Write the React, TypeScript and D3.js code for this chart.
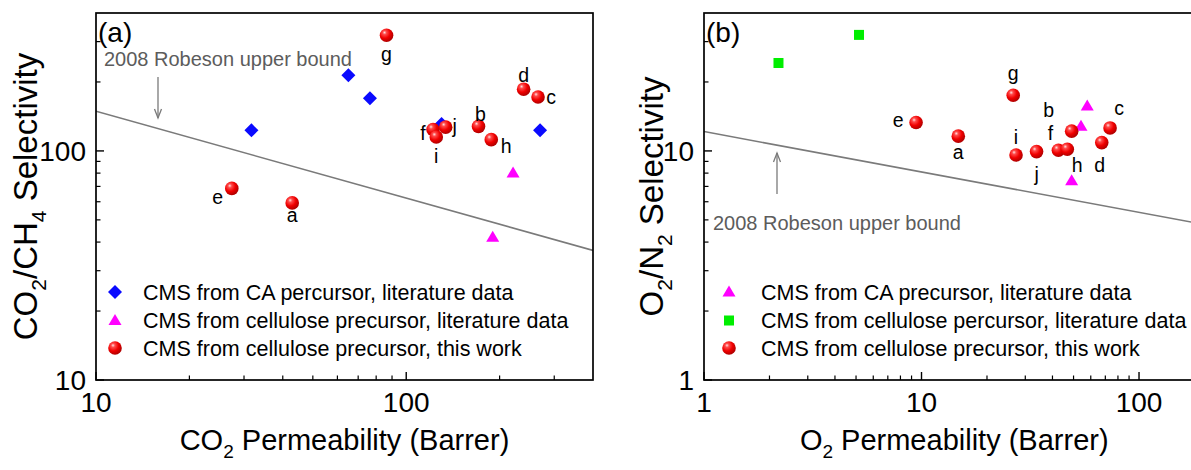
import React from 'react';
import * as d3 from 'd3';

// ---------- Panel (a): CO2/CH4 ----------
const caLitA = [
  { p: 31.7, s: 123 },
  { p: 65.1, s: 214 },
  { p: 76.4, s: 170 },
  { p: 130, s: 131 },
  { p: 270, s: 123 },
];
const celLitA = [
  { p: 221, s: 80 },
  { p: 190, s: 42 },
];
const thisWorkA = [
  { id: 'a', p: 42.9, s: 59.3 },
  { id: 'b', p: 171, s: 128 },
  { id: 'c', p: 266, s: 172 },
  { id: 'd', p: 239, s: 186 },
  { id: 'e', p: 27.4, s: 68.6 },
  { id: 'f', p: 122, s: 124 },
  { id: 'g', p: 86.4, s: 320 },
  { id: 'h', p: 188, s: 112 },
  { id: 'i', p: 125, s: 115 },
  { id: 'j', p: 134, s: 127 },
];
const robesonA = [
  { p: 10, s: 149 },
  { p: 400, s: 36.8 },
];
const xDomainA = [10, 400];
const yDomainA = [10, 400];
const xTicksA = [10, 100];
const yTicksA = [10, 100];

// ---------- Panel (b): O2/N2 ----------
const caLitB = [
  { p: 57.8, s: 15.7 },
  { p: 54.1, s: 12.8 },
  { p: 49.0, s: 7.41 },
];
const celLitB = [
  { p: 2.2, s: 24.2 },
  { p: 5.16, s: 32.1 },
];
const thisWorkB = [
  { id: 'a', p: 14.76, s: 11.6 },
  { id: 'b', p: 49.0, s: 12.2 },
  { id: 'c', p: 73.6, s: 12.6 },
  { id: 'd', p: 67.4, s: 10.87 },
  { id: 'e', p: 9.44, s: 13.3 },
  { id: 'f', p: 42.6, s: 10.07 },
  { id: 'g', p: 26.4, s: 17.5 },
  { id: 'h', p: 46.8, s: 10.17 },
  { id: 'i', p: 27.2, s: 9.6 },
  { id: 'j', p: 33.8, s: 9.93 },
];
const robesonB = [
  { p: 1, s: 12.15 },
  { p: 200, s: 4.77 },
];
const xDomainB = [1, 200];
const yDomainB = [1, 40];
const xTicksB = [1, 10, 100];
const yTicksB = [1, 10];

const legendA = [
  { shape: 'diamond', text: 'CMS from CA percursor, literature data' },
  { shape: 'triangle', text: 'CMS from cellulose precursor, literature data' },
  { shape: 'sphere', text: 'CMS from cellulose precursor, this work' },
];
const legendB = [
  { shape: 'triangle', text: 'CMS from CA precursor, literature data' },
  { shape: 'square', text: 'CMS from cellulose percursor, literature data' },
  { shape: 'sphere', text: 'CMS from cellulose precursor, this work' },
];

// label offsets (text centre dx, baseline dy) relative to the point
const labelOffA: Record<string, [number, number]> = {
  a: [0, 19], b: [2, -5], c: [13, 7], d: [0, -7], e: [-14, 16],
  f: [-10, 10], g: [0, 26], h: [15, 13], i: [0, 26], j: [9, 6],
};
const labelOffB: Record<string, [number, number]> = {
  a: [0, 23], b: [-23, -14], c: [9, -13], d: [-2, 29], e: [-18, 4],
  f: [-8, -10], g: [0, -15], h: [10, 23], i: [0, -11], j: [0, 29],
};

const FONT = '"Liberation Sans", Arial, Helvetica, sans-serif';
const GRAY = '#7a7a7a';

function Marker({ shape, x, y }: { shape: string; x: number; y: number }) {
  if (shape === 'diamond') {
    const r = 7;
    return <path d={`M${x},${y - r}L${x + r},${y}L${x},${y + r}L${x - r},${y}Z`} fill="#0a0aff" />;
  }
  if (shape === 'triangle') {
    const h = 11, w = 13;
    return <path d={`M${x},${y - h * 0.6}L${x + w / 2},${y + h * 0.4}L${x - w / 2},${y + h * 0.4}Z`} fill="#ff00ff" />;
  }
  if (shape === 'square') {
    const s = 10;
    return <rect x={x - s / 2} y={y - s / 2} width={s} height={s} fill="#00ee00" />;
  }
  return <circle cx={x} cy={y} r={6.8} fill="url(#sphereGrad)" />;
}

function minorTicks(domain: number[]) {
  const out: number[] = [];
  const lo = Math.floor(Math.log10(domain[0]));
  const hi = Math.ceil(Math.log10(domain[1]));
  for (let e = lo; e <= hi; e++) {
    for (let m = 2; m <= 9; m++) {
      const v = m * Math.pow(10, e);
      if (v > domain[0] && v < domain[1]) out.push(v);
    }
  }
  return out;
}

function Arrow({ x, y1, y2 }: { x: number; y1: number; y2: number }) {
  const dir = y2 > y1 ? 1 : -1;
  return (
    <g stroke={GRAY} strokeWidth={1.3} fill="none">
      <line x1={x} y1={y1} x2={x} y2={y2} />
      <path d={`M${x - 3.5},${y2 - dir * 9}L${x},${y2}L${x + 3.5},${y2 - dir * 9}`} />
    </g>
  );
}

function Panel(props: {
  xDomain: number[]; yDomain: number[]; xRange: number[]; yRange: number[];
  xTicks: number[]; yTicks: number[];
  series: { shape: string; data: { p: number; s: number; id?: string }[] }[];
  labelOff: Record<string, [number, number]>;
  robeson: { p: number; s: number }[];
  panelLabel: string;
  xTitle: [string, string, string];
  yTitle: React.ReactNode;
  yTitleX: number;
  legend: { shape: string; text: string }[];
  legendMarkerX: number; legendTextX: number; legendY: number[];
  robText: { x: number; y: number };
  arrow: { x: number; y1: number; y2: number };
}) {
  const x = d3.scaleLog().domain(props.xDomain).range(props.xRange);
  const y = d3.scaleLog().domain(props.yDomain).range(props.yRange);
  const [x0, x1] = props.xRange;
  const [yb, yt] = props.yRange;
  const line = d3.line<{ p: number; s: number }>().x(d => x(d.p)).y(d => y(d.s));
  const clipId = 'clip' + props.panelLabel.replace(/[()]/g, '');
  return (
    <g fontFamily={FONT}>
      <clipPath id={clipId}>
        <rect x={x0} y={yt} width={x1 - x0} height={yb - yt} />
      </clipPath>
      {/* Robeson line */}
      <path d={line(props.robeson) || ''} stroke={GRAY} strokeWidth={1.6} fill="none" clipPath={`url(#${clipId})`} />
      <Arrow {...props.arrow} />
      <text x={props.robText.x} y={props.robText.y} fontSize={20} fill="#5c5c5c">2008 Robeson upper bound</text>
      {/* frame */}
      <rect x={x0} y={yt} width={x1 - x0} height={yb - yt} fill="none" stroke="#000" strokeWidth={1.7} />
      {/* ticks */}
      {props.xTicks.map(t => (
        <g key={'xt' + t}>
          <line x1={x(t)} x2={x(t)} y1={yb} y2={yb - 8} stroke="#000" strokeWidth={1.4} />
          <text x={x(t)} y={yb + 32} fontSize={28} textAnchor="middle">{t}</text>
        </g>
      ))}
      {minorTicks(props.xDomain).map(t => (
        <line key={'xm' + t} x1={x(t)} x2={x(t)} y1={yb} y2={yb - 4.5} stroke="#000" strokeWidth={1.2} />
      ))}
      {props.yTicks.map(t => (
        <g key={'yt' + t}>
          <line x1={x0} x2={x0 + 8} y1={y(t)} y2={y(t)} stroke="#000" strokeWidth={1.4} />
          <text x={x0 - 10} y={y(t) + 10} fontSize={28} textAnchor="end">{t}</text>
        </g>
      ))}
      {minorTicks(props.yDomain).map(t => (
        <line key={'ym' + t} x1={x0} x2={x0 + 4.5} y1={y(t)} y2={y(t)} stroke="#000" strokeWidth={1.2} />
      ))}
      {/* data */}
      {props.series.map((se, i) => (
        <g key={'s' + i}>
          {se.data.map((d, j) => (
            <g key={j}>
              <Marker shape={se.shape} x={x(d.p)} y={y(d.s)} />
              {d.id ? (
                <text x={x(d.p) + props.labelOff[d.id][0]} y={y(d.s) + props.labelOff[d.id][1]} fontSize={19.5} textAnchor="middle">{d.id}</text>
              ) : null}
            </g>
          ))}
        </g>
      ))}
      {/* legend */}
      {props.legend.map((l, i) => (
        <g key={'l' + i}>
          <Marker shape={l.shape} x={props.legendMarkerX} y={props.legendY[i]} />
          <text x={props.legendTextX} y={props.legendY[i] + 7.5} fontSize={21.5}>{l.text}</text>
        </g>
      ))}
      {/* panel label */}
      <text x={x0 + 2} y={yt + 29} fontSize={28}>{props.panelLabel}</text>
      {/* x title */}
      <text x={(x0 + x1) / 2} y={450} fontSize={29} textAnchor="middle">
        {props.xTitle[0]}
        <tspan fontSize={19} dy={8}>{props.xTitle[1]}</tspan>
        <tspan dy={-8}>{props.xTitle[2]}</tspan>
      </text>
      {/* y title */}
      <text transform={`translate(${props.yTitleX},${(yb + yt) / 2}) rotate(-90)`} fontSize={33} textAnchor="middle">
        {props.yTitle}
      </text>
    </g>
  );
}

export default function App() {
  return (
    <svg width={1191} height={470} style={{ position: 'absolute', left: 0, top: 0, background: '#fff' }}>
      <defs>
        <radialGradient id="sphereGrad" cx="0.38" cy="0.35" r="0.65" fx="0.35" fy="0.3">
          <stop offset="0" stopColor="#ffe0e0" />
          <stop offset="0.22" stopColor="#ff4a4a" />
          <stop offset="0.6" stopColor="#f00000" />
          <stop offset="1" stopColor="#b00000" />
        </radialGradient>
      </defs>
      <rect width={1191} height={470} fill="#fff" />
      <Panel
        xDomain={xDomainA} yDomain={yDomainA} xRange={[96, 593]} yRange={[380, 13]}
        xTicks={xTicksA} yTicks={yTicksA}
        series={[
          { shape: 'diamond', data: caLitA },
          { shape: 'triangle', data: celLitA },
          { shape: 'sphere', data: thisWorkA },
        ]}
        labelOff={labelOffA}
        robeson={robesonA}
        panelLabel="(a)"
        xTitle={['CO', '2', ' Permeability (Barrer)']}
        yTitle={<>CO<tspan fontSize={21} dy={9}>2</tspan><tspan dy={-9}>/CH</tspan><tspan fontSize={21} dy={9}>4</tspan><tspan dy={-9}> Selectivity</tspan></>}
        yTitleX={37}
        legend={legendA}
        legendMarkerX={115} legendTextX={143} legendY={[292, 320.5, 348]}
        robText={{ x: 104, y: 66 }}
        arrow={{ x: 158, y1: 77, y2: 118 }}
      />
      <Panel
        xDomain={xDomainB} yDomain={yDomainB} xRange={[704, 1204.5]} yRange={[380, 13]}
        xTicks={xTicksB} yTicks={yTicksB}
        series={[
          { shape: 'triangle', data: caLitB },
          { shape: 'square', data: celLitB },
          { shape: 'sphere', data: thisWorkB },
        ]}
        labelOff={labelOffB}
        robeson={robesonB}
        panelLabel="(b)"
        xTitle={['O', '2', ' Permeability (Barrer)']}
        yTitle={<>O<tspan fontSize={21} dy={9}>2</tspan><tspan dy={-9}>/N</tspan><tspan fontSize={21} dy={9}>2</tspan><tspan dy={-9}> Selectivity</tspan></>}
        yTitleX={663}
        legend={legendB}
        legendMarkerX={729} legendTextX={761} legendY={[292, 320.5, 348]}
        robText={{ x: 713, y: 230 }}
        arrow={{ x: 777, y1: 194, y2: 153 }}
      />
    </svg>
  );
}
